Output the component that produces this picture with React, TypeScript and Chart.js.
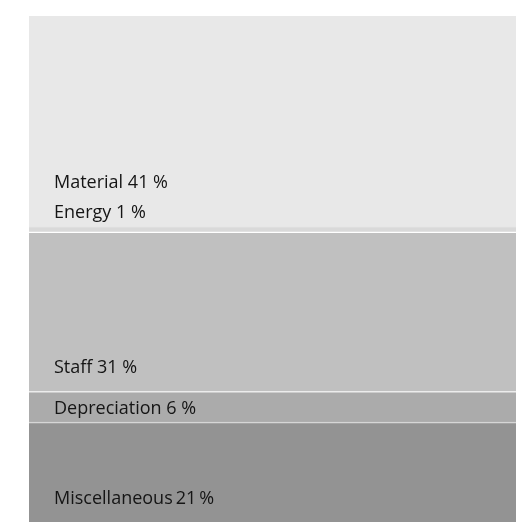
import React, { useEffect, useRef } from "react";
import { Chart, registerables } from "chart.js";

Chart.register(...registerables);

// Data (top to bottom as shown)
const categories = ["Material", "Energy", "Staff", "Depreciation", "Miscellaneous"];
const shares = [41, 1, 31, 6, 21];
const labelTexts = ["Material 41 %", "Energy 1 %", "Staff 31 %", "Depreciation 6 %", "Miscellaneous\u200921\u2009%"];

// Styles
const fills = ["#e8e8e8", "#d9d9d9", "#c0c0c0", "#ababab", "#939393"];
const topBorders = ["#e8e8e8", "#e3e3e3", "#ffffff", "#ececec", "#d6d6d6"];
const topBorderWidths = [0, 1, 1.5, 1.5, 1.5];
// label baseline distance above segment bottom (px)
const labelLift = [39, 14, 18, 8, 26];

const labelPlugin = {
  id: "segLabels",
  afterDatasetsDraw(chart: any) {
    const ctx = chart.ctx;
    const area = chart.chartArea;
    ctx.save();
    ctx.font = "18px 'Open Sans', 'Noto Sans', sans-serif";
    ctx.fillStyle = "#151515";
    ctx.textAlign = "left";
    ctx.textBaseline = "alphabetic";
    chart.data.datasets.forEach((ds: any, i: number) => {
      const meta = chart.getDatasetMeta(i);
      const el = meta.data[0];
      if (!el) return;
      const idx = ds.segIndex;
      const bottom = el.base;
      ctx.fillText(labelTexts[idx], area.left + 25, bottom - labelLift[idx]);
    });
    ctx.restore();
  },
};

export default function App() {
  const ref = useRef<HTMLCanvasElement>(null);
  useEffect(() => {
    document.body.style.overflow = "hidden";
    const order = [4, 3, 2, 1, 0]; // bottom first
    const chart = new Chart(ref.current!, {
      type: "bar",
      data: {
        labels: ["Costs"],
        datasets: order.map((i) => ({
          label: categories[i],
          data: [shares[i]],
          segIndex: i,
          backgroundColor: fills[i],
          borderColor: topBorders[i],
          borderWidth: { top: topBorderWidths[i], bottom: 0, left: 0, right: 0 },
          borderSkipped: false,
          barPercentage: 1,
          categoryPercentage: 1,
        })) as any,
      },
      options: {
        animation: false,
        responsive: false,
        layout: { padding: { top: 16, left: 29, right: 0, bottom: 0 } },
        plugins: { legend: { display: false }, tooltip: { enabled: false } },
        scales: {
          x: { stacked: true, display: false },
          y: { stacked: true, display: false, min: 0, max: 100 },
        },
      },
      plugins: [labelPlugin],
    });
    return () => chart.destroy();
  }, []);
  return (
    <div style={{ position: "absolute", left: 0, top: 0, width: 516, height: 530 }}>
      <canvas ref={ref} width={516} height={530} style={{ width: 516, height: 530 }} />
    </div>
  );
}
